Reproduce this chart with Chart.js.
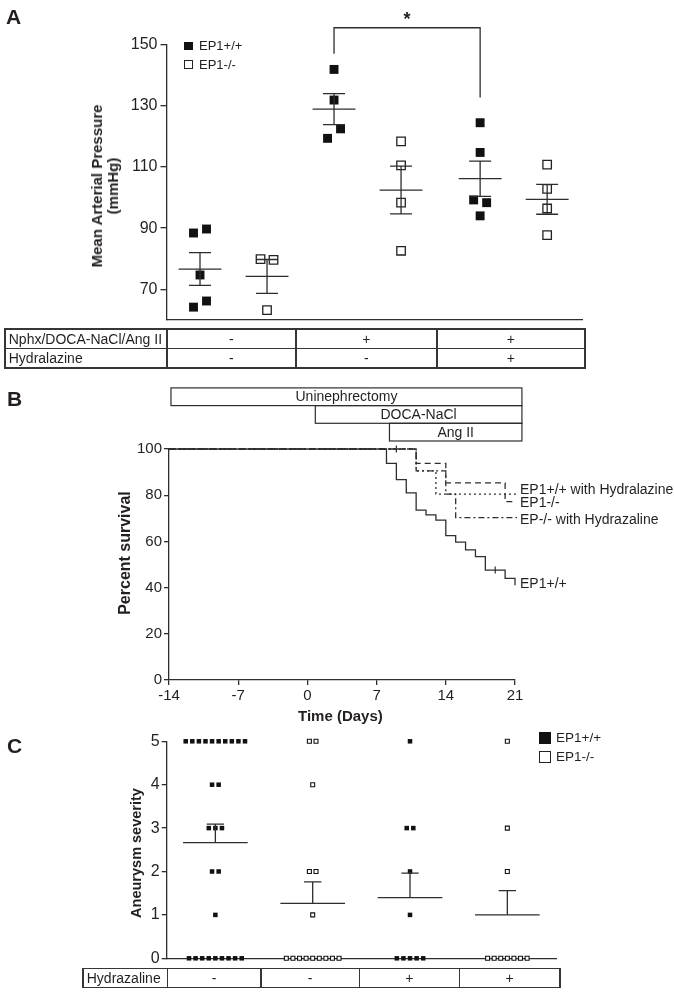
<!DOCTYPE html>
<html>
<head>
<meta charset="utf-8">
<title>EP1 blood pressure, survival and aneurysm severity</title>
<script src="https://cdn.jsdelivr.net/npm/chart.js@4.4.1/dist/chart.umd.min.js"></script>
<style>
html,body{margin:0;padding:0;background:#fff}
#page{position:relative;width:674px;height:993px;overflow:hidden;font-family:Arial,"Liberation Sans",Helvetica,sans-serif;color:#231f20}
#page canvas{position:absolute;left:0}
.tx{position:absolute;white-space:nowrap}
.ln{position:absolute;background:#363636}
.sq{position:absolute;box-sizing:border-box}
</style>
</head>
<body>
<div id="page">
<canvas id="chartA" width="674" height="340" style="top:0px"></canvas>
<canvas id="chartB" width="674" height="360" style="top:370px"></canvas>
<canvas id="chartC" width="674" height="273" style="top:720px"></canvas>
</div>
<script>
// ================= DATA =================
// Panel A : mean arterial pressure (mmHg), individual mice
const mapGroupsA   = ['EP1+/+ control', 'EP1-/- control', 'EP1+/+ Nphx/DOCA-NaCl/Ang II', 'EP1-/- Nphx/DOCA-NaCl/Ang II', 'EP1+/+ + Hydralazine', 'EP1-/- + Hydralazine'];
const mapGenotypeA = ['+/+', '-/-', '+/+', '-/-', '+/+', '-/-'];
const mapWtCtrl = [88.4, 89.7, 74.7, 64.2, 66.2];
const mapKoCtrl = [79.9, 79.6, 63.2];
const mapWtHtn  = [141.8, 131.8, 119.3, 122.4];
const mapKoHtn  = [118.3, 110.5, 98.3, 82.6];
const mapWtHyd  = [124.4, 114.7, 99.2, 98.3, 94.0];
const mapKoHyd  = [110.7, 102.8, 96.4, 87.7];
const mapTicksA = [70, 90, 110, 130, 150];
const sigPairA  = [2, 4];                 // groups compared
const sigLevelsA = [146.9, 155.4, 132.6]; // left end, bar, right end (mmHg)
const legendLabels = ['EP1+/+', 'EP1-/-'];
const tableARows = [['Nphx/DOCA-NaCl/Ang II', '-', '+', '+'], ['Hydralazine', '-', '-', '+']];

// Panel B : percent survival vs time (days)
const survDaysWt    = [-14, 8, 9, 10, 11, 12, 13, 14, 15, 16, 17, 18, 20, 21];
const survWt        = [100, 93.8, 86.7, 81.0, 73.5, 71.5, 69.2, 62.5, 59.7, 56.3, 53.4, 47.6, 44.0, 41.0];
const survDaysKo    = [-14, 11, 14, 20, 21];
const survKo        = [100, 93.8, 85.3, 77.2, 77.2];
const survDaysWtHyd = [-14, 11, 13, 21.2];
const survWtHyd     = [100, 90.5, 80.5, 80.5];
const survDaysKoHyd = [-14, 11, 14, 15, 21.2];
const survKoHyd     = [100, 90.5, 80.5, 70.3, 70.3];
const censorDays = [9, 19];
const censorVals = [100, 47.6];
const treatments     = ['Uninephrectomy', 'DOCA-NaCl', 'Ang II'];
const treatmentStart = [-13.8, 0.8, 8.3];
const treatmentEnd   = [21.7, 21.7, 21.7];
const survTicksX = [-14, -7, 0, 7, 14, 21];
const curveLabels    = ['EP1+/+ with Hydralazine', 'EP1-/-', 'EP-/- with Hydrazaline', 'EP1+/+'];
const curveLabelVals = [82.7, 77.1, 69.5, 41.8];

// Panel C : aneurysm severity score, individual mice
const sevGroupsC = ['EP1+/+ -', 'EP1-/- -', 'EP1+/+ +', 'EP1-/- +'];
const sevGenotypeC = ['+/+', '-/-', '+/+', '-/-'];
const sevWt    = [5,5,5,5,5,5,5,5,5,5,4,4,3,3,3,2,2,1,0,0,0,0,0,0,0,0,0];
const sevKo    = [5,5,4,2,2,1,0,0,0,0,0,0,0,0,0];
const sevWtHyd = [5,3,3,2,1,0,0,0,0,0];
const sevKoHyd = [5,3,2,0,0,0,0,0,0,0];
const sevTicksC = [0, 1, 2, 3, 4, 5];
const tableCRow = [['Hydrazaline', '-', '-', '+', '+']];

// ================= LAYOUT / STYLE =================
const FONT = 'Arial, "Liberation Sans", Helvetica, sans-serif';
const INK = '#231f20';
const LINE = '#2e2e2e';
Chart.defaults.font.family = FONT;
Chart.defaults.color = INK;

const slotA = [0.5, 1.5, 2.5, 3.5, 4.68, 5.68];
const slotC = [0.5, 1.5, 2.5, 3.5];

function mean(a) { return a.reduce((s, v) => s + v, 0) / a.length; }
function sem(a) {
  const m = mean(a);
  const v = a.reduce((s, x) => s + (x - m) * (x - m), 0) / (a.length - 1);
  return Math.sqrt(v / a.length);
}
// spread two points that would overlap
function pairJitter(vals, thr, d) {
  const off = vals.map(() => 0), used = vals.map(() => false);
  for (let i = 0; i < vals.length; i++) {
    if (used[i]) continue;
    for (let j = i + 1; j < vals.length; j++) {
      if (!used[j] && Math.abs(vals[i] - vals[j]) < thr) {
        off[i] = -d; off[j] = d; used[i] = used[j] = true; break;
      }
    }
  }
  return off;
}
// spread identical scores side by side
function stackJitter(vals, d) {
  const counts = {}, idx = {};
  vals.forEach(v => counts[v] = (counts[v] || 0) + 1);
  return vals.map(v => {
    idx[v] = (idx[v] || 0);
    const k = idx[v]++;
    return (k - (counts[v] - 1) / 2) * d;
  });
}
function errSegs(c, m, s, hw, cw, lower) {
  const gap = {x: c, y: null};
  const segs = [{x: c - hw, y: m}, {x: c + hw, y: m}, gap,
                {x: c, y: lower ? m - s : m}, {x: c, y: m + s}, gap,
                {x: c - cw, y: m + s}, {x: c + cw, y: m + s}];
  if (lower) segs.push(gap, {x: c - cw, y: m - s}, {x: c + cw, y: m - s});
  return segs;
}
function yAxis(min, max, ticks, size, tickLen, pad, width) {
  return {
    type: 'linear', min: min, max: max,
    afterBuildTicks: s => { s.ticks = ticks.map(v => ({value: v})); },
    ticks: {font: {size: size}, color: INK, padding: pad},
    grid: {drawOnChartArea: false, drawTicks: true, tickLength: tickLen, color: LINE, tickColor: LINE, lineWidth: 1.3},
    border: {display: true, color: LINE, width: 1.3},
    afterFit: s => { s.width = width; }
  };
}
const common = {responsive: false, animation: false, events: [], devicePixelRatio: 1,
  plugins: {legend: {display: false}, tooltip: {enabled: false}}};

// ================= PANEL A =================
const groupsA = [mapWtCtrl, mapKoCtrl, mapWtHtn, mapKoHtn, mapWtHyd, mapKoHyd];
const datasetsA = [];
groupsA.forEach((vals, g) => {
  const wt = mapGenotypeA[g] === '+/+';
  const off = pairJitter(vals, 3.5, 0.097);
  datasetsA.push({
    label: mapGroupsA[g],
    data: vals.map((v, i) => ({x: slotA[g] + off[i], y: v})),
    showLine: false, pointStyle: 'rect',
    pointRadius: wt ? 6.3 : 6.0,
    pointBackgroundColor: wt ? '#111' : '#fff',
    pointBorderColor: wt ? '#111' : '#222',
    pointBorderWidth: wt ? 0 : 1.3,
    order: 1, clip: false
  });
  datasetsA.push({
    label: mapGroupsA[g] + ' mean ± SEM',
    data: errSegs(slotA[g], mean(vals), sem(vals), 0.32, 0.164, true),
    borderColor: LINE, borderWidth: 1.3, pointRadius: 0, spanGaps: false, order: 0, clip: false
  });
});
const bracketPlugin = {
  id: 'sigBracket',
  afterDraw(chart) {
    const {ctx, scales: {x, y}} = chart;
    const xl = x.getPixelForValue(slotA[sigPairA[0]]);
    const xr = x.getPixelForValue(slotA[sigPairA[1]]);
    const yl = y.getPixelForValue(sigLevelsA[0]);
    const yb = y.getPixelForValue(sigLevelsA[1]);
    const yr = y.getPixelForValue(sigLevelsA[2]);
    ctx.save();
    ctx.strokeStyle = LINE; ctx.lineWidth = 1.3;
    ctx.beginPath(); ctx.moveTo(xl, yl); ctx.lineTo(xl, yb); ctx.lineTo(xr, yb); ctx.lineTo(xr, yr); ctx.stroke();
    ctx.fillStyle = INK; ctx.font = 'bold 18px ' + FONT; ctx.textAlign = 'center'; ctx.textBaseline = 'alphabetic';
    ctx.fillText('*', (xl + xr) / 2, yb - 3);
    ctx.restore();
  }
};
const chartA = new Chart(document.getElementById('chartA'), {
  type: 'line',
  data: {datasets: datasetsA},
  options: Object.assign({}, common, {
    layout: {padding: {top: 44.3, right: 92, bottom: 0, left: 0}},
    scales: {
      x: {type: 'linear', min: 0, max: 6.2, ticks: {display: false}, grid: {display: false},
          border: {display: true, color: LINE, width: 1.3}, afterFit: s => { s.height = 20; }},
      y: yAxis(60, 150, mapTicksA, 16, 6, 3, 166.5)
    }
  }),
  plugins: [bracketPlugin]
});

// ================= PANEL B =================
function curve(days, vals) { return days.map((d, i) => ({x: d, y: vals[i]})); }
const boxPlugin = {
  id: 'treatBoxes',
  afterDraw(chart) {
    const {ctx, chartArea, scales: {x}} = chart;
    const h = 17.7, gap = 8;
    ctx.save();
    ctx.strokeStyle = LINE; ctx.lineWidth = 1.2;
    ctx.fillStyle = INK; ctx.font = '14px ' + FONT; ctx.textAlign = 'center'; ctx.textBaseline = 'middle';
    treatments.forEach((t, i) => {
      const x0 = x.getPixelForValue(treatmentStart[i]);
      const x1 = x.getPixelForValue(treatmentEnd[i]);
      const y0 = chartArea.top - gap - (treatments.length - i) * h;
      ctx.strokeRect(x0, y0, x1 - x0, h);
      ctx.fillText(t, (x0 + x1) / 2, y0 + h / 2 + 0.5);
    });
    ctx.restore();
  }
};
// survival stays at the previous level until the event day, then drops
const lineB = {borderColor: LINE, borderWidth: 1.3, pointRadius: 0, stepped: 'before', fill: false, clip: false};
const chartB = new Chart(document.getElementById('chartB'), {
  type: 'line',
  data: {datasets: [
    Object.assign({label: 'EP1+/+', data: curve(survDaysWt, survWt)}, lineB),
    Object.assign({label: 'EP1-/-', data: curve(survDaysKo, survKo), borderDash: [6, 4]}, lineB),
    Object.assign({label: 'EP1+/+ with Hydralazine', data: curve(survDaysWtHyd, survWtHyd), borderDash: [2, 3]}, lineB),
    Object.assign({label: 'EP-/- with Hydrazaline', data: curve(survDaysKoHyd, survKoHyd), borderDash: [6, 3, 2, 3]}, lineB),
    {label: 'censored', data: curve(censorDays, censorVals), showLine: false, pointStyle: 'line',
     pointRotation: 90, pointRadius: 3.5, pointBorderColor: LINE, pointBorderWidth: 1.2, clip: false}
  ]},
  options: Object.assign({}, common, {
    layout: {padding: {top: 79, right: 159, bottom: 0, left: 0}},
    scales: {
      x: {type: 'linear', min: -14, max: 21,
          afterBuildTicks: s => { s.ticks = survTicksX.map(v => ({value: v})); },
          ticks: {font: {size: 15}, color: INK, padding: 2, maxRotation: 0, autoSkip: false},
          grid: {drawOnChartArea: false, drawTicks: true, tickLength: 5, color: LINE, tickColor: LINE, lineWidth: 1.3},
          border: {display: true, color: LINE, width: 1.3},
          afterFit: s => { s.height = 50; }},
      y: yAxis(0, 100, [0, 20, 40, 60, 80, 100], 15, 5, 2, 169)
    }
  }),
  plugins: [boxPlugin]
});

// ================= PANEL C =================
const groupsC = [sevWt, sevKo, sevWtHyd, sevKoHyd];
const datasetsC = [];
groupsC.forEach((vals, g) => {
  const wt = sevGenotypeC[g] === '+/+';
  const off = stackJitter(vals, 0.0677);
  datasetsC.push({
    label: sevGroupsC[g],
    data: vals.map((v, i) => ({x: slotC[g] + off[i], y: v})),
    showLine: false, pointStyle: 'rect',
    pointRadius: wt ? 3.2 : 2.8,
    pointBackgroundColor: wt ? '#111' : '#fff',
    pointBorderColor: '#111',
    pointBorderWidth: wt ? 0 : 1.1,
    order: 1, clip: false
  });
  datasetsC.push({
    label: sevGroupsC[g] + ' mean + SEM',
    data: errSegs(slotC[g], mean(vals), sem(vals), 0.332, 0.089, false),
    borderColor: LINE, borderWidth: 1.3, pointRadius: 0, spanGaps: false, order: 0, clip: false
  });
});
const chartC = new Chart(document.getElementById('chartC'), {
  type: 'line',
  data: {datasets: datasetsC},
  options: Object.assign({}, common, {
    layout: {padding: {top: 21.3, right: 118, bottom: 0, left: 0}},
    scales: {
      x: {type: 'linear', min: 0, max: 4, ticks: {display: false}, grid: {display: false},
          border: {display: true, color: LINE, width: 1.3}, afterFit: s => { s.height = 34.7; }},
      y: yAxis(0, 5, sevTicksC, 16, 5, 2, 166.7)
    }
  })
});

// ================= HTML TEXT / TABLES =================
const page = document.getElementById('page');
function addText(str, x, yc, size, opt) {
  opt = opt || {};
  const d = document.createElement('div');
  d.className = 'tx'; d.textContent = str;
  d.style.fontSize = size + 'px'; d.style.lineHeight = size + 'px';
  d.style.top = (yc - size / 2) + 'px'; d.style.left = x + 'px';
  if (opt.bold) d.style.fontWeight = 'bold';
  if (opt.align === 'center') d.style.transform = 'translateX(-50%)';
  page.appendChild(d); return d;
}
function addVText(lines, cx, cy, size, lh) {
  const d = document.createElement('div');
  d.className = 'tx';
  d.style.fontSize = size + 'px'; d.style.fontWeight = 'bold'; d.style.lineHeight = lh + 'px';
  d.style.textAlign = 'center';
  lines.forEach((l, i) => { if (i) d.appendChild(document.createElement('br')); d.appendChild(document.createTextNode(l)); });
  d.style.left = cx + 'px'; d.style.top = cy + 'px';
  d.style.transform = 'translate(-50%,-50%) rotate(-90deg)';
  page.appendChild(d);
}
function addLine(x, y, w, h) {
  const d = document.createElement('div'); d.className = 'ln';
  Object.assign(d.style, {left: x + 'px', top: y + 'px', width: w + 'px', height: h + 'px'});
  page.appendChild(d);
}
function addSquare(x, y, s, filled) {
  const d = document.createElement('div'); d.className = 'sq';
  Object.assign(d.style, {left: x + 'px', top: y + 'px', width: s + 'px', height: s + 'px',
    background: filled ? '#111' : '#fff', border: filled ? 'none' : '1.2px solid #222'});
  page.appendChild(d);
}
function addTable(cols, top, rowH, rows, size) {
  const lw = 1.5, n = rows.length;
  for (let r = 0; r <= n; r++) addLine(cols[0] - lw / 2, top + r * rowH - lw / 2, cols[cols.length - 1] - cols[0] + lw, lw);
  cols.forEach(c => addLine(c - lw / 2, top - lw / 2, lw, rowH * n + lw));
  rows.forEach((row, r) => row.forEach((t, ci) => {
    const yc = top + r * rowH + rowH / 2;
    if (ci === 0) addText(t, cols[0] + 4, yc, size);
    else addText(t, (cols[ci] + cols[ci + 1]) / 2, yc, size, {align: 'center'});
  }));
}

// panel letters
addText('A', 6, 16.7, 21, {bold: true});
addText('B', 7, 398.8, 21, {bold: true});
addText('C', 7, 745.3, 21, {bold: true});

// panel A
addVText(['Mean Arterial Pressure', '(mmHg)'], 104.5, 186, 15, 16);
addSquare(184.3, 41.8, 8.5, true);  addText(legendLabels[0], 199, 45.5, 13);
addSquare(184.3, 60.3, 8.5, false); addText(legendLabels[1], 199, 64, 13);
addTable([4.75, 166.75, 295.75, 436.75, 584.75], 328.75, 19.5, tableARows, 14);

// panel B
addVText(['Percent survival'], 125, 552.5, 16, 18);
addText('Time (Days)', 340.4, 715, 15, {bold: true, align: 'center'});
const bx = chartB.scales.x.getPixelForValue(21) + 5;
curveLabels.forEach((t, i) => addText(t, bx, 370 + chartB.scales.y.getPixelForValue(curveLabelVals[i]), 14));

// panel C
addVText(['Aneurysm severity'], 136, 852.5, 14.5, 17);
addSquare(539, 732, 12, true);    addText(legendLabels[0], 556, 738, 13.5);
addSquare(539, 751, 12, false);   addText(legendLabels[1], 556, 757, 13.5);
addTable([82.75, 167.25, 260.75, 359.25, 459.25, 559.75], 968.25, 19, tableCRow, 14);
</script>
</body>
</html>
